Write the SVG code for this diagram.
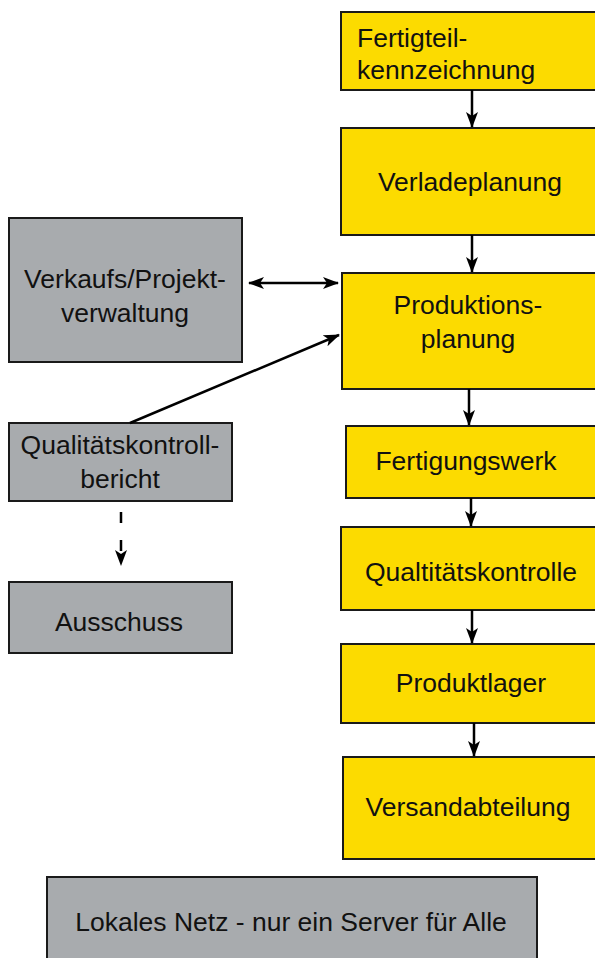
<svg xmlns="http://www.w3.org/2000/svg" width="595" height="958" viewBox="0 0 595 958">
<style>
.y{fill:#FCDB00;stroke:#1a1a1a;stroke-width:2}
.g{fill:#A8ABAE;stroke:#1a1a1a;stroke-width:2}
text{font-family:"Liberation Sans",Arial,sans-serif;font-size:26.5px;fill:#111}
.c{text-anchor:middle}
.ln{stroke:#000;stroke-width:2.5;fill:none}
</style>
<defs>
<marker id="ah" viewBox="0 0 16 14" refX="15" refY="7" markerWidth="16" markerHeight="14" markerUnits="userSpaceOnUse" orient="auto-start-reverse">
<path d="M0,1 L16,7 L0,13 L4,7 Z" fill="#000"/>
</marker>
</defs>
<g id="n-fertigteil"><rect class="y" x="341" y="12" width="270" height="78"/><text x="357" y="47">Fertigteil-</text><text x="357" y="79">kennzeichnung</text></g>
<g id="n-verlade"><rect class="y" x="341" y="128" width="270" height="107"/><text class="c" x="470" y="191">Verladeplanung</text></g>
<g id="n-produktion"><rect class="y" x="342" y="273" width="270" height="116"/><text class="c" x="468" y="314">Produktions-</text><text class="c" x="468" y="348">planung</text></g>
<g id="n-verkauf"><rect class="g" x="9" y="218" width="233" height="144"/><text class="c" x="125" y="288">Verkaufs/Projekt-</text><text class="c" x="125" y="322">verwaltung</text></g>
<g id="n-qkbericht"><rect class="g" x="9" y="423" width="223" height="78"/><text class="c" x="120" y="454">Qualitätskontroll-</text><text class="c" x="120" y="488">bericht</text></g>
<g id="n-ausschuss"><rect class="g" x="9" y="582" width="223" height="71"/><text class="c" x="119" y="631">Ausschuss</text></g>
<g id="n-fertigungswerk"><rect class="y" x="346" y="426" width="270" height="72"/><text class="c" x="466" y="470">Fertigungswerk</text></g>
<g id="n-qk"><rect class="y" x="341" y="527" width="270" height="83"/><text class="c" x="471" y="581">Qualtitätskontrolle</text></g>
<g id="n-produktlager"><rect class="y" x="341" y="644" width="270" height="79"/><text class="c" x="471" y="692">Produktlager</text></g>
<g id="n-versand"><rect class="y" x="343" y="757" width="270" height="102"/><text class="c" x="468" y="816">Versandabteilung</text></g>
<g id="n-lokal"><rect class="g" x="47" y="877" width="490" height="100"/><text class="c" x="291" y="931">Lokales Netz - nur ein Server für Alle</text></g>
<g id="connectors">
<line class="ln" x1="472" y1="90" x2="472" y2="127" marker-end="url(#ah)"/>
<line class="ln" x1="472" y1="235" x2="472" y2="272" marker-end="url(#ah)"/>
<line class="ln" x1="249" y1="283" x2="338" y2="283" marker-start="url(#ah)" marker-end="url(#ah)"/>
<line class="ln" x1="130" y1="423" x2="339" y2="335" marker-end="url(#ah)"/>
<line class="ln" x1="469" y1="389" x2="469" y2="425" marker-end="url(#ah)"/>
<line class="ln" x1="471" y1="498" x2="471" y2="526" marker-end="url(#ah)"/>
<line class="ln" x1="472" y1="610" x2="472" y2="643" marker-end="url(#ah)"/>
<line class="ln" x1="474" y1="723" x2="474" y2="756" marker-end="url(#ah)"/>
<line class="ln" x1="121" y1="512" x2="121" y2="565" stroke-dasharray="11,17" marker-end="url(#ah)"/>
</g>
</svg>
